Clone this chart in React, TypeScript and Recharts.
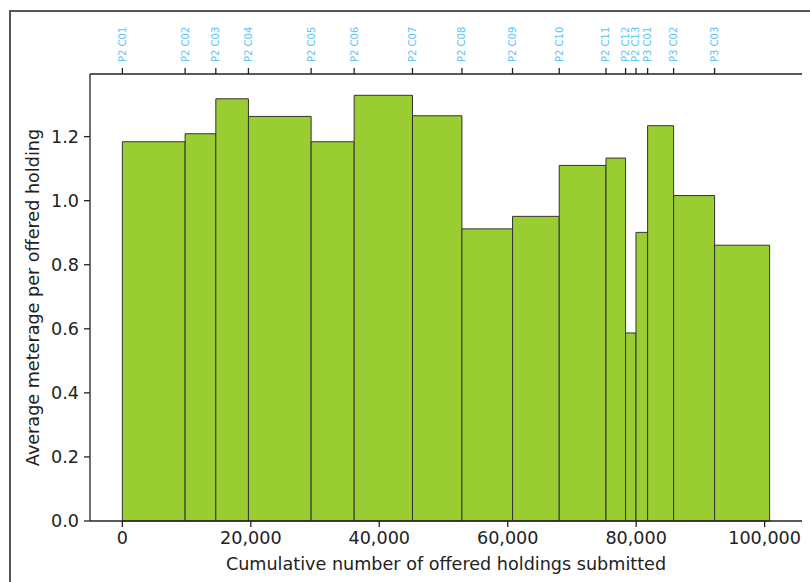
import React from 'react';
import { ComposedChart, Line, XAxis, YAxis, ReferenceArea, Label } from 'recharts';

// release names, holdings offered per release and average meterage
const releases = [
  'P2 C01', 'P2 C02', 'P2 C03', 'P2 C04', 'P2 C05', 'P2 C06', 'P2 C07', 'P2 C08',
  'P2 C09', 'P2 C10', 'P2 C11', 'P2 C12', 'P2 C13', 'P3 C01', 'P3 C02', 'P3 C03',
];
const holdings = [
  9770, 4780, 5080, 9760, 6700, 9080, 7700, 7880,
  7270, 7280, 3050, 1620, 1810, 4050, 6380, 8570,
];
const meterage = [
  1.184, 1.209, 1.318, 1.263, 1.184, 1.329, 1.265, 0.912,
  0.951, 1.110, 1.133, 0.587, 0.901, 1.234, 1.016, 0.861,
];
const xTicks = [0, 20000, 40000, 60000, 80000, 100000];
const yTicks = [0, 0.2, 0.4, 0.6, 0.8, 1.0, 1.2];

const starts = holdings.map((_, i) => holdings.slice(0, i).reduce((a, b) => a + b, 0));
const total = holdings.reduce((a, b) => a + b, 0);
const rows = releases.map((name, i) => ({
  name,
  start: starts[i],
  end: starts[i] + holdings[i],
  value: meterage[i],
}));

const xPad = total * 0.05;
const yMax = Math.max(...meterage) * 1.05;

const FONT = 'DejaVu Sans, sans-serif';
const SPINE = '#222';

const TopTick = (props: any) => {
  const { x, y, payload } = props;
  const i = starts.indexOf(payload.value);
  return (
    <text
      x={x}
      y={y}
      transform={`rotate(-90 ${x} ${y})`}
      textAnchor="start"
      dy="0.35em"
      fill="#5bc4f5"
      fontSize={10}
      fontFamily={FONT}
    >
      {releases[i]}
    </text>
  );
};

const YTitle = (props: any) => {
  const vb = props.viewBox;
  const x = vb.x + 33;
  const y = vb.y + vb.height / 2;
  return (
    <text x={x} y={y} transform={`rotate(-90 ${x} ${y})`} textAnchor="middle" dy="0.35em"
      fill="#222" fontSize={17.6} fontFamily={FONT}>
      Average meterage per offered holding
    </text>
  );
};

const XTitle = (props: any) => {
  const vb = props.viewBox;
  return (
    <text x={vb.x + vb.width / 2} y={vb.y + 49} textAnchor="middle"
      fill="#222" fontSize={17.6} fontFamily={FONT}>
      Cumulative number of offered holdings submitted
    </text>
  );
};

export default function App() {
  return (
    <div style={{ position: 'absolute', left: 0, top: 0, width: 810, height: 582, background: '#fff' }}>
      <div
        style={{
          position: 'absolute', left: 9, top: 10, right: 0, bottom: 0,
          borderTop: '2px solid #555', borderLeft: '2px solid #555',
        }}
      />
      <div style={{ position: 'absolute', left: 0, top: 0 }}>
        <ComposedChart width={810} height={582} data={rows} margin={{ top: 0, right: 8, bottom: 0, left: 0 }}>
          <XAxis
            dataKey="start"
            type="number"
            domain={[-xPad, total + xPad]}
            ticks={xTicks}
            interval={0}
            height={61}
            tickSize={6}
            tickMargin={5}
            tickFormatter={(v: number) => v.toLocaleString('en-US')}
            tick={{ fill: '#222', fontSize: 17.6, fontFamily: FONT }}
            axisLine={{ stroke: SPINE, strokeWidth: 1.3 }}
            tickLine={{ stroke: SPINE, strokeWidth: 1.3 }}
            allowDataOverflow
          >
            <Label content={<XTitle />} />
          </XAxis>
          <XAxis
            xAxisId="top"
            dataKey="start"
            type="number"
            orientation="top"
            domain={[-xPad, total + xPad]}
            ticks={starts}
            interval={0}
            height={74}
            tickSize={6}
            tickMargin={6}
            tick={<TopTick />}
            axisLine={{ stroke: SPINE, strokeWidth: 1.3 }}
            tickLine={{ stroke: SPINE, strokeWidth: 1.3 }}
            allowDataOverflow
          />
          <YAxis
            type="number"
            domain={[0, yMax]}
            ticks={yTicks}
            interval={0}
            width={90}
            tickSize={6}
            tickMargin={5}
            tickFormatter={(v: number) => v.toFixed(1)}
            tick={{ fill: '#222', fontSize: 17.6, fontFamily: FONT }}
            axisLine={{ stroke: SPINE, strokeWidth: 1.3 }}
            tickLine={{ stroke: SPINE, strokeWidth: 1.3 }}
            allowDataOverflow
          >
            <Label content={<YTitle />} />
          </YAxis>
          <YAxis
            yAxisId="right"
            orientation="right"
            type="number"
            domain={[0, yMax]}
            width={0}
            tick={false}
            tickLine={false}
            axisLine={{ stroke: SPINE, strokeWidth: 1.3 }}
          />
          {rows.map((r) => (
            <ReferenceArea
              key={r.name}
              x1={r.start}
              x2={r.end}
              y1={0}
              y2={r.value}
              fill="#9acd32"
              fillOpacity={1}
              stroke="#333"
              strokeWidth={1}
            />
          ))}
          <Line
            dataKey="value"
            stroke="none"
            dot={false}
            activeDot={false}
            legendType="none"
            isAnimationActive={false}
          />
        </ComposedChart>
      </div>
    </div>
  );
}
